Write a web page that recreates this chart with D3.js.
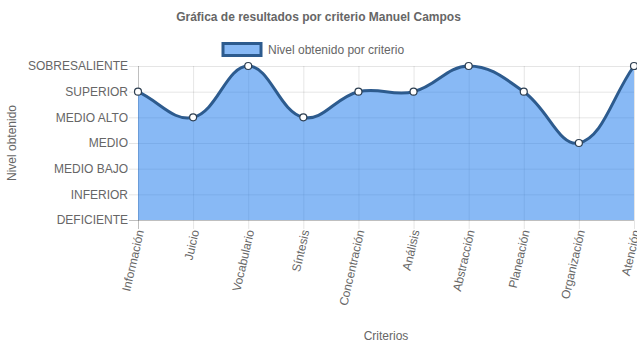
<!DOCTYPE html>
<html><head><meta charset="utf-8">
<script src="https://cdn.jsdelivr.net/npm/d3@7"></script>
<style>html,body{margin:0;padding:0;background:#fff;}svg{display:block;}</style>
</head><body>
<svg id="c" width="637" height="348"></svg>
<script>
const categories = ["Información","Juicio","Vocabulario","Síntesis","Concentración","Análisis","Abstracción","Planeación","Organización","Atención"];
const levels = ["DEFICIENTE","INFERIOR","MEDIO BAJO","MEDIO","MEDIO ALTO","SUPERIOR","SOBRESALIENTE"];
const values = ["SUPERIOR","MEDIO ALTO","SOBRESALIENTE","MEDIO ALTO","SUPERIOR","SUPERIOR","SOBRESALIENTE","SUPERIOR","MEDIO","SOBRESALIENTE"];
const titleText = "Gráfica de resultados por criterio Manuel Campos";
const legendLabel = "Nivel obtenido por criterio";
const yTitle = "Nivel obtenido";
const xTitle = "Criterios";

(function () {
const svg = d3.select("#c");
const font = "'Liberation Sans', Arial, Helvetica, sans-serif";
const textColor = "#666";
const pLeft = 138, pRight = 634, pTop = 66, pBottom = 220;

const x = d3.scalePoint().domain(categories).range([pLeft, pRight]).padding(0);
const y = d3.scalePoint().domain(levels).range([pBottom, pTop]).padding(0);

// grid lines
const grid = svg.append("g");
grid.selectAll("line.h").data(levels).join("line")
  .attr("x1", pLeft - 9).attr("x2", pRight)
  .attr("y1", d => y(d) + 0.5).attr("y2", d => y(d) + 0.5)
  .attr("stroke", d => d === "DEFICIENTE" ? "rgba(0,0,0,0.25)" : "rgba(0,0,0,0.1)").attr("stroke-width", 1);
grid.selectAll("line.v").data(categories).join("line")
  .attr("x1", d => x(d) + 0.5).attr("x2", d => x(d) + 0.5)
  .attr("y1", pTop).attr("y2", pBottom + 9)
  .attr("stroke", d => d === categories[0] ? "rgba(0,0,0,0.25)" : "rgba(0,0,0,0.1)").attr("stroke-width", 1);

// Chart.js-like spline
const pts = values.map((v, i) => ({x: x(categories[i]), y: y(v)}));
const t = 0.4;
pts.forEach((p, i) => {
  const prev = pts[i - 1] || p, next = pts[i + 1] || p;
  const d01 = Math.hypot(p.x - prev.x, p.y - prev.y);
  const d12 = Math.hypot(next.x - p.x, next.y - p.y);
  let s01 = d01 / (d01 + d12), s12 = d12 / (d01 + d12);
  if (isNaN(s01)) s01 = 0; if (isNaN(s12)) s12 = 0;
  const fa = t * s01, fb = t * s12;
  p.cpPrev = {x: p.x - fa * (next.x - prev.x), y: p.y - fa * (next.y - prev.y)};
  p.cpNext = {x: p.x + fb * (next.x - prev.x), y: p.y + fb * (next.y - prev.y)};
  [p.cpPrev, p.cpNext].forEach(c => {
    c.x = Math.max(pLeft, Math.min(pRight, c.x));
    c.y = Math.max(pTop, Math.min(pBottom, c.y));
  });
});
let linePath = `M${pts[0].x},${pts[0].y}`;
for (let i = 1; i < pts.length; i++) {
  const a = pts[i - 1], b = pts[i];
  linePath += `C${a.cpNext.x},${a.cpNext.y},${b.cpPrev.x},${b.cpPrev.y},${b.x},${b.y}`;
}
const areaPath = linePath + `L${pts[pts.length - 1].x},${pBottom}L${pts[0].x},${pBottom}Z`;

svg.append("path").attr("d", areaPath).attr("fill", "rgba(39,128,237,0.55)");
svg.append("path").attr("d", linePath).attr("fill", "none").attr("stroke", "#2d5b8e").attr("stroke-width", 3);
svg.append("g").selectAll("circle").data(pts).join("circle")
  .attr("cx", d => d.x).attr("cy", d => d.y).attr("r", 3.5)
  .attr("fill", "#fff").attr("stroke", "#2d3e50").attr("stroke-width", 1.2);

// y labels
svg.append("g").selectAll("text").data(levels).join("text")
  .attr("x", pLeft - 10).attr("y", d => y(d)).attr("dy", "0.35em")
  .attr("text-anchor", "end").attr("font-family", font).attr("font-size", 12).attr("fill", textColor)
  .text(d => d);

// x labels
svg.append("g").selectAll("text").data(categories).join("text")
  .attr("transform", d => `translate(${x(d) + 2},${pBottom + 10}) rotate(-77)`)
  .attr("text-anchor", "end").attr("dy", "0.35em")
  .attr("font-family", font).attr("font-size", 12).attr("fill", textColor)
  .text(d => d);

// titles
svg.append("text").attr("x", 318.5).attr("y", 21).attr("text-anchor", "middle")
  .attr("font-family", font).attr("font-size", 12).attr("font-weight", "bold").attr("fill", textColor)
  .text(titleText);
svg.append("text").attr("transform", `translate(16,${(pTop + pBottom) / 2}) rotate(-90)`)
  .attr("text-anchor", "middle").attr("font-family", font).attr("font-size", 12).attr("fill", textColor)
  .text(yTitle);
svg.append("text").attr("x", (pLeft + pRight) / 2).attr("y", 340).attr("text-anchor", "middle")
  .attr("font-family", font).attr("font-size", 12).attr("fill", textColor)
  .text(xTitle);

// legend
svg.append("rect").attr("x", 223).attr("y", 43.5).attr("width", 38).attr("height", 12)
  .attr("fill", "rgba(39,128,237,0.55)").attr("stroke", "#2d5b8e").attr("stroke-width", 3);
svg.append("text").attr("x", 268).attr("y", 50).attr("dy", "0.35em")
  .attr("font-family", font).attr("font-size", 12).attr("fill", textColor)
  .text(legendLabel);
})();
</script>
</body></html>
